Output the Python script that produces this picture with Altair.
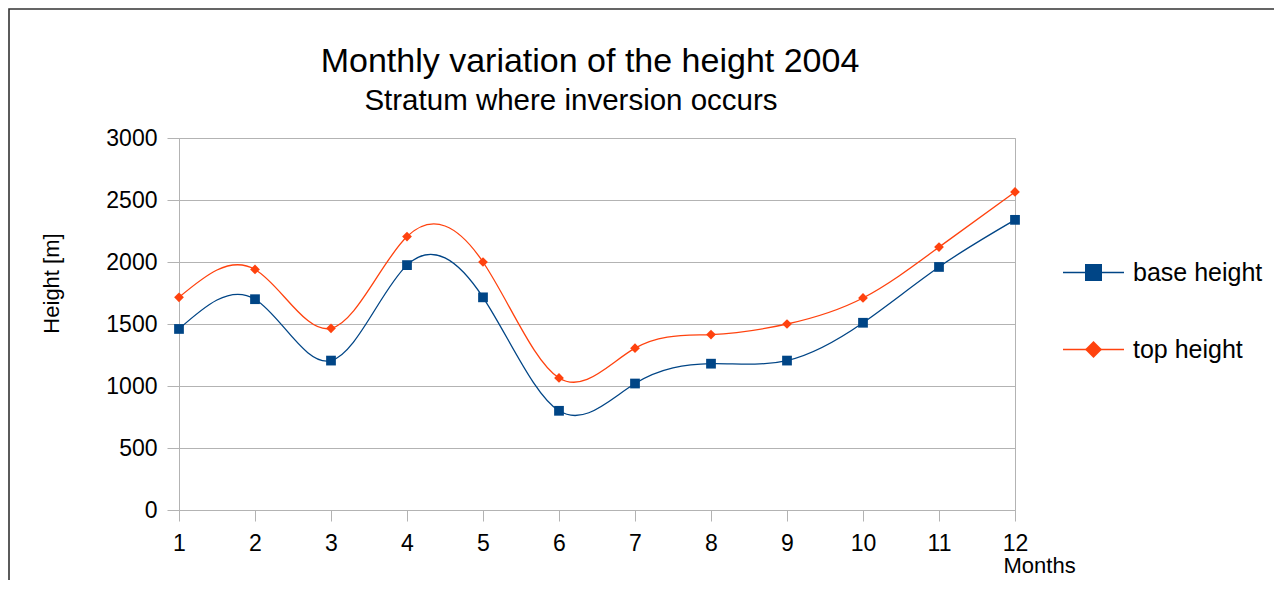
import altair as alt
import pandas as pd

months = list(range(1, 13))
base_height = [1460, 1700, 1205, 1975, 1715, 800, 1020, 1180, 1205, 1510, 1960, 2340]
top_height = [1715, 1940, 1465, 2205, 2000, 1065, 1305, 1415, 1500, 1710, 2120, 2565]
series_names = ["base height", "top height"]
series_colors = ["#004586", "#ff420e"]
series_shapes = ["square", "diamond"]
y_ticks = [0, 500, 1000, 1500, 2000, 2500, 3000]
title_text = ["Monthly variation of the height 2004"]
subtitle_text = ["Stratum where inversion occurs"]
x_title = "Months"
y_title = "Height [m]"

rows = []
for m, b, t in zip(months, base_height, top_height):
    rows.append({"month": m, "value": b, "series": series_names[0]})
    rows.append({"month": m, "value": t, "series": series_names[1]})
df = pd.DataFrame(rows)

FONT = "Liberation Sans"
GRID = "#b3b3b3"
W, H = 836, 372
PAD_L, PAD_T = 171, 130
PAD_R = 1266 - PAD_L - W
PAD_B = 70

x_enc = alt.X(
    "month:Q",
    scale=alt.Scale(domain=[1, 12], nice=False, zero=False),
    axis=alt.Axis(
        values=months, format="d", title=x_title, grid=False,
        domainColor=GRID, tickColor=GRID, tickSize=11,
        labelFont=FONT, labelFontSize=23, labelColor="black", labelPadding=11,
        labelFlush=False, labelOverlap=False,
        titleFont=FONT, titleFontSize=22, titleFontWeight="normal", titleColor="black",
        titleX=824, titleY=62.5, titleAlign="left", titleBaseline="alphabetic",
    ),
)
y_enc = alt.Y(
    "value:Q",
    scale=alt.Scale(domain=[0, 3000], nice=False),
    axis=alt.Axis(
        values=y_ticks, format="d", title=y_title, grid=True, gridColor=GRID,
        domainColor=GRID, tickColor=GRID, tickSize=12,
        labelFont=FONT, labelFontSize=23, labelColor="black", labelPadding=10,
        labelOverlap=False,
        titleFont=FONT, titleFontSize=22, titleFontWeight="normal", titleColor="black",
        titleX=-127.5, titleY=145, titleAngle=270, titleAlign="center", titleBaseline="middle",
    ),
)

LEG_X = 883
LINE_LEN = 61
MARK_LEN = 17
MARK_PAD = 122

# legend A: line symbols with labels
legend_lines = alt.Legend(
    title=None, orient="none", legendX=LEG_X, legendY=103, direction="vertical",
    labelFont=FONT, labelFontSize=25, labelColor="black", labelOffset=8,
    labelBaseline="middle", symbolType="stroke", symbolSize=LINE_LEN ** 2,
    symbolStrokeWidth=1.3, rowPadding=32, padding=0,
)
# legend B: marker symbols overlaid on the middle of the lines (labels hidden)
legend_marks = alt.Legend(
    title=None, orient="right", padding=MARK_PAD,
    offset=LEG_X + (LINE_LEN - MARK_LEN) / 2 - W - MARK_PAD - 6.5,
    direction="vertical",
    labelFont=FONT, labelFontSize=25, labelColor="black", labelOpacity=0, labelOffset=8,
    labelBaseline="middle", symbolSize=MARK_LEN ** 2,
    symbolOpacity=1, rowPadding=51,
)

frame = alt.Chart(alt.Data(values=[{"k": 1}])).mark_rect(
    filled=False, stroke="#333333", strokeWidth=1.6
).encode(
    x=alt.value(-PAD_L + 1), x2=alt.value(W + PAD_R + 30),
    y=alt.value(-PAD_T + 1), y2=alt.value(H + PAD_B + 30),
)

lines = alt.Chart(df).mark_line(interpolate="natural", strokeWidth=1.3).encode(
    x=x_enc, y=y_enc,
    color=alt.Color("series:N", scale=alt.Scale(domain=series_names, range=series_colors),
                    legend=legend_lines),
)

points = alt.Chart(df).mark_point(filled=True, opacity=1, size=95).encode(
    x="month:Q", y="value:Q",
    fill=alt.Fill("series:N", scale=alt.Scale(domain=series_names, range=series_colors),
                  legend=legend_marks),
    shape=alt.Shape("series:N", scale=alt.Scale(domain=series_names, range=series_shapes),
                    legend=legend_marks),
)

title_layer = alt.Chart(pd.DataFrame({"t": title_text})).mark_text(
    font=FONT, fontSize=34, align="center", baseline="middle", color="black"
).encode(text="t:N", x=alt.value(590 - 179), y=alt.value(62 - 138))

subtitle_layer = alt.Chart(pd.DataFrame({"t": subtitle_text})).mark_text(
    font=FONT, fontSize=29.5, align="center", baseline="middle", color="black"
).encode(text="t:N", x=alt.value(571 - 179), y=alt.value(101 - 138))

chart = alt.layer(frame, lines, points, title_layer, subtitle_layer).properties(
    width=W, height=H,
    autosize=alt.AutoSizeParams(type="none"),
    padding={"left": PAD_L, "top": PAD_T, "right": PAD_R, "bottom": PAD_B},
    background="white",
).configure_view(stroke=GRID, strokeWidth=1)

chart.save("out.html", embed_options={"renderer": "svg", "actions": False})
